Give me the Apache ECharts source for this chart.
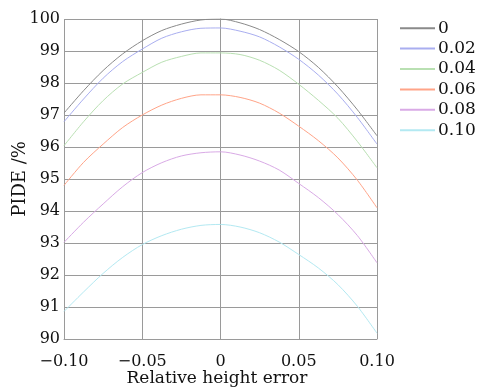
<!DOCTYPE html>
<html><head><meta charset="utf-8">
<script src="https://cdn.jsdelivr.net/npm/echarts@6/dist/echarts.min.js"></script>
<style>html,body{margin:0;padding:0;background:#fff}#c{width:477px;height:388px}</style>
</head><body><div id="c"></div>
<script>
const xValues = [-0.1, -0.0875, -0.075, -0.0625, -0.05, -0.0375, -0.025, -0.0125, 0,
                 0.0125, 0.025, 0.0375, 0.05, 0.0625, 0.075, 0.0875, 0.1];
const seriesNames = ['0', '0.02', '0.04', '0.06', '0.08', '0.10'];
const s000 = [97.06, 97.76, 98.39, 98.91, 99.32, 99.64, 99.84, 99.97, 100.0,
              99.88, 99.67, 99.36, 98.98, 98.49, 97.88, 97.16, 96.35];
const s002 = [96.79, 97.50, 98.15, 98.67, 99.06, 99.40, 99.60, 99.71, 99.72,
              99.62, 99.44, 99.13, 98.74, 98.25, 97.65, 96.92, 96.09];
const s004 = [96.04, 96.79, 97.45, 97.97, 98.33, 98.65, 98.83, 98.94, 98.94,
              98.89, 98.71, 98.40, 97.96, 97.46, 96.90, 96.17, 95.35];
const s006 = [94.80, 95.52, 96.09, 96.61, 97.00, 97.31, 97.52, 97.63, 97.63,
              97.55, 97.37, 97.06, 96.65, 96.20, 95.66, 94.96, 94.10];
const s008 = [93.02, 93.65, 94.22, 94.76, 95.20, 95.51, 95.72, 95.82, 95.85,
              95.75, 95.56, 95.28, 94.86, 94.42, 93.89, 93.23, 92.38];
const s010 = [90.86, 91.47, 92.05, 92.55, 92.95, 93.23, 93.43, 93.55, 93.58,
              93.50, 93.32, 93.03, 92.64, 92.22, 91.70, 91.02, 90.18];
const xTickLabels = {'-0.1':'\u22120.10','-0.05':'\u22120.05','0':'0','0.05':'0.05','0.1':'0.10'};
const colors = ['#8a8a8a', '#a9aef0', '#b9e0b2', '#ffa488', '#d9aae6', '#b3e9f2'];
const allSeries = [s000, s002, s004, s006, s008, s010];

const font = 'DejaVu Serif';
const chart = echarts.init(document.getElementById('c'), null, {renderer: 'canvas'});
chart.setOption({
  animation: false,
  backgroundColor: '#fff',
  grid: {left: 64, right: 100, top: 19, bottom: 49, containLabel: false, outerBoundsMode: 'none'},
  legend: {
    orient: 'vertical', left: 399, top: 18, padding: 0,
    itemWidth: 35, itemHeight: 12, itemGap: 0,
    itemStyle: {opacity: 0},
    textStyle: {fontFamily: font, fontSize: 17, color: '#111', lineHeight: 20.4, padding: [0,0,0,-2]},
    data: seriesNames
  },
  xAxis: {
    type: 'value', min: -0.1, max: 0.1, interval: 0.05,
    name: 'Relative height error', nameLocation: 'middle', nameGap: 31, nameMoveOverlap: false,
    nameTextStyle: {fontFamily: font, fontSize: 17, color: '#111', padding: [0, 7, 0, 0]},
    axisLine: {show: true, lineStyle: {color: '#9a9a9a', width: 1}},
    axisTick: {show: false},
    axisLabel: {fontFamily: font, fontSize: 16, color: '#111', margin: 15,
      formatter: v => xTickLabels[String(+v.toFixed(3))] ?? String(v)},
    splitLine: {show: true, lineStyle: {color: '#9a9a9a', width: 1}}
  },
  yAxis: {
    type: 'value', min: 90, max: 100, interval: 1,
    name: 'PIDE /%', nameLocation: 'middle', nameGap: 35, nameMoveOverlap: false,
    nameTextStyle: {fontFamily: font, fontSize: 18, color: '#111'},
    axisLine: {show: true, lineStyle: {color: '#9a9a9a', width: 1}},
    axisTick: {show: false},
    axisLabel: {fontFamily: font, fontSize: 16, color: '#111', margin: 4},
    splitLine: {show: true, lineStyle: {color: '#9a9a9a', width: 1}}
  },
  series: allSeries.map((arr, i) => ({
    name: seriesNames[i], type: 'line', symbol: 'none', smooth: 0.3,
    lineStyle: {color: colors[i], width: 1}, itemStyle: {color: colors[i]},
    data: arr.map((v, j) => [xValues[j], v])
  }))
});
</script></body></html>
